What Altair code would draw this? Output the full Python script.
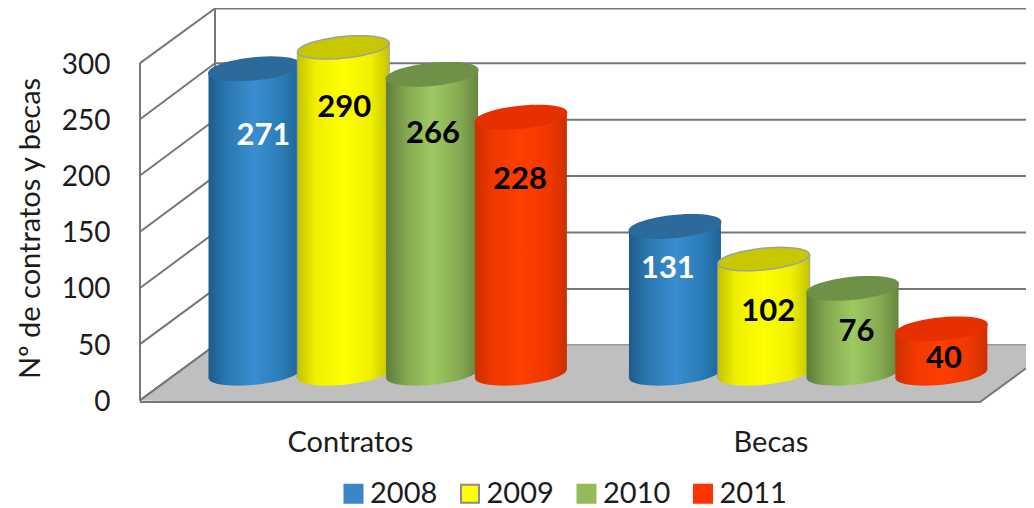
import math
import altair as alt
import pandas as pd

# ---- data ----
CATEGORIES = ["Contratos", "Becas"]
YEARS = ["2008", "2009", "2010", "2011"]
V_2008 = [271, 131]
V_2009 = [290, 102]
V_2010 = [266, 76]
V_2011 = [228, 40]
SERIES = [V_2008, V_2009, V_2010, V_2011]
Y_TICKS = [0, 50, 100, 150, 200, 250, 300]

# height (in axis units) at which each value label sits on its cylinder, and its sideways nudge
LABEL_LEVEL = [[211, 93], [236, 55], [213, 37], [172, 13]]
LABEL_SHIFT = [[0.10, -0.08], [0.01, 0.05], [0.01, 0.045], [-0.01, 0.03]]

# ---- styles ----
FONT = "Lato"
TXT = "#1c1c1c"
LEGEND_COL = ["#3a86c8", "#ffff00", "#93bb5a", "#ff3300"]
LEGEND_EDGE = ["#3a86c8", "#8c8c8c", "#93bb5a", "#ff3300"]
TOP_COL = ["#2c6a9c", "#c8c800", "#6f9147", "#e63000"]
TOP_EDGE = ["#2c6a9c", "#a0a0a0", "#6f9147", "#e63000"]
BODY_STOPS = [
    [("#1c5c8a", 0), ("#2a78b0", 0.2), ("#3a8dd0", 0.5), ("#2a7cb6", 0.8), ("#1f6494", 1)],
    [("#c4c400", 0), ("#f0f000", 0.2), ("#ffff00", 0.5), ("#f0f000", 0.8), ("#c4c400", 1)],
    [("#5d7d3a", 0), ("#84a850", 0.22), ("#9dca62", 0.5), ("#86aa52", 0.8), ("#66863e", 1)],
    [("#cc3000", 0), ("#f03800", 0.2), ("#ff3e00", 0.5), ("#f03800", 0.8), ("#cc3000", 1)],
]
WALL = "#777777"
FLOOR = "#bfbfbf"

# ---- projection of the fake 3-D space onto the shared x (slot) and y (value) scales ----
SLOT_PX = 88.8
GROUP_STEP = 4.735          # slots between the two groups
DEPTH_U = 75 / SLOT_PX      # sideways shift of the back wall, in slots
X_MIN = (140 - 254.5) / SLOT_PX
X_MAX = (1026 - 254.5) / SLOT_PX
Y_MIN, Y_MAX = -5, 349
BAR_DEPTH = 0.48
BAR_W = 92 / SLOT_PX
TILT = 4.0


def lift(v, d):
    return v * (1 + 0.0033 * d) + 49 * d


def dx(d):
    return X_MIN + DEPTH_U * d


wall_top = 348.6
rows = []
for i, t in enumerate(Y_TICKS):
    back = min(lift(t, 1), wall_top)
    rows += [
        {"u": dx(0), "y": t, "k": f"d{i}"},
        {"u": dx(1), "y": back, "k": f"d{i}"},
        {"u": dx(1), "y": back, "k": f"g{i}"},
        {"u": X_MAX, "y": back, "k": f"g{i}"},
    ]
rows += [{"u": dx(0), "y": 0, "k": "lv"}, {"u": dx(0), "y": 300, "k": "lv"}]
rows += [{"u": dx(1), "y": lift(0, 1), "k": "bv"}, {"u": dx(1), "y": wall_top, "k": "bv"}]
wall = pd.DataFrame(rows)

FRONT_END = (980 - 254.5) / SLOT_PX
RIGHT_D = (X_MAX - FRONT_END) / DEPTH_U
floor = pd.DataFrame([
    {"u": dx(0), "y": 0, "y2": 0},
    {"u": dx(1), "y": lift(0, 1), "y2": -1.5},
    {"u": FRONT_END, "y": lift(0, 1), "y2": -1.5},
    {"u": X_MAX, "y": lift(0, 1), "y2": lift(0, RIGHT_D) - 1.5},
])
edge = pd.DataFrame([
    {"u": dx(0), "y": -1.5},
    {"u": FRONT_END, "y": -1.5},
    {"u": X_MAX, "y": lift(0, RIGHT_D) - 1.5},
])


def ellipse_path(ry=0.235, deg=5.8, n=48):
    th = math.radians(deg)
    pts = []
    for i in range(n):
        t = 2 * math.pi * i / n
        x, y = math.cos(t), ry * math.sin(t)
        pts.append((x * math.cos(th) + y * math.sin(th), -x * math.sin(th) + y * math.cos(th)))
    return "M" + "L".join(f"{a:.4f},{b:.4f}" for a, b in pts) + "Z"


ELLIPSE = ellipse_path()
ELLIPSE_SIZE = 92 ** 2

CAT_U = [1.48 - BAR_DEPTH * DEPTH_U + c * GROUP_STEP for c in range(2)]
label_expr = f"datum.value < {(CAT_U[0] + CAT_U[1]) / 2} ? '{CATEGORIES[0]}' : '{CATEGORIES[1]}'"

x_scale = alt.Scale(domain=[X_MIN, X_MAX], nice=False, zero=False)
y_scale = alt.Scale(domain=[Y_MIN, Y_MAX], nice=False, zero=False)
x_axis = alt.Axis(
    values=CAT_U, labelExpr=label_expr, title=None, grid=False, domain=False, ticks=False,
    labelFont=FONT, labelFontSize=29, labelColor=TXT, labelPadding=22, labelOverlap=False,
    labelFlush=False, labelAlign="center")
y_axis = alt.Axis(
    values=Y_TICKS, title="Nº de contratos y becas", grid=False, domain=False, ticks=False,
    labelFont=FONT, labelFontSize=28, labelColor=TXT, labelPadding=30, labelOffset=2,
    titleFont=FONT, titleFontSize=29, titleFontWeight="normal", titleColor=TXT,
    titleX=-110, titleY=220, titleAnchor="middle", titleAlign="center", titleBaseline="middle")
X = alt.X("u:Q", scale=x_scale, axis=x_axis)
Y = alt.Y("y:Q", scale=y_scale, axis=y_axis)

wall_layer = alt.Chart(wall).mark_line(color=WALL, strokeWidth=2).encode(x=X, y=Y, detail="k:N")
floor_layer = alt.Chart(floor).mark_area(color=FLOOR, opacity=1).encode(x=X, y=Y, y2="y2:Q")
front_lines = alt.Chart(wall[wall.k.isin(["lv", "d0"])]).mark_line(color=WALL, strokeWidth=2).encode(x=X, y=Y, detail="k:N")
edge_layer = alt.Chart(edge).mark_line(color=WALL, strokeWidth=2).encode(x=X, y=Y)

layers = [wall_layer, floor_layer, front_lines, edge_layer]

for s, (year, vals) in enumerate(zip(YEARS, SERIES)):
    grad = alt.Gradient(
        gradient="linear", x1=0, x2=1, y1=0, y2=0,
        stops=[alt.GradientStop(color=c, offset=o) for c, o in BODY_STOPS[s]],
    )
    body, tops, labels = [], [], []
    for c, v in enumerate(vals):
        cu = s + c * GROUP_STEP
        top = lift(v, BAR_DEPTH)
        base = lift(0, BAR_DEPTH)
        body += [
            {"u": cu - BAR_W / 2, "y": top - TILT, "y2": base - TILT, "b": c},
            {"u": cu + BAR_W / 2, "y": top + TILT, "y2": base + TILT, "b": c},
        ]
        tops.append({"u": cu, "y": top, "base": base})
        labels.append({"u": cu + LABEL_SHIFT[s][c], "y": lift(LABEL_LEVEL[s][c], BAR_DEPTH), "t": str(v)})
    body_df, tops_df, labels_df = pd.DataFrame(body), pd.DataFrame(tops), pd.DataFrame(labels)
    for c in range(len(vals)):
        area_kw = {"stroke": TOP_EDGE[s], "strokeWidth": 1} if s == 1 else {}
        layers.append(
            alt.Chart(body_df[body_df.b == c]).mark_area(fill=grad, opacity=1, **area_kw).encode(x=X, y=Y, y2="y2:Q")
        )
    layers.append(
        alt.Chart(tops_df).mark_point(filled=True, fill=grad, opacity=1, shape=ELLIPSE, size=ELLIPSE_SIZE, strokeWidth=0)
        .encode(x=X, y=alt.Y("base:Q", scale=y_scale, axis=y_axis))
    )
    layers.append(
        alt.Chart(tops_df).mark_point(filled=True, fill=TOP_COL[s], stroke=TOP_EDGE[s], strokeWidth=1.5, opacity=1,
                                      shape=ELLIPSE, size=ELLIPSE_SIZE)
        .encode(x=X, y=Y)
    )
    layers.append(
        alt.Chart(labels_df).mark_text(font=FONT, fontSize=31, fontWeight="bold", baseline="middle", align="center",
                                       color="#ffffff" if s == 0 else "#000000")
        .encode(x=X, y=Y, text="t:N")
    )

legend_df = pd.DataFrame({"Año": YEARS, "u": [0.0] * 4, "y": [0.0] * 4})
legend_layer = alt.Chart(legend_df).mark_point(filled=True, size=0, opacity=1).encode(
    x=X, y=Y,
    fill=alt.Fill("Año:N", scale=alt.Scale(domain=YEARS, range=LEGEND_COL), title=None),
    stroke=alt.Stroke("Año:N", scale=alt.Scale(domain=YEARS, range=LEGEND_EDGE), title=None),
)
layers.append(legend_layer)

chart = alt.layer(*layers).properties(
    width=886, height=398,
    autosize=alt.AutoSizeParams(type="none"),
    padding={"left": 132, "top": 0, "right": 0, "bottom": 102},
    background="#ffffff",
).configure_view(stroke=None).configure_legend(
    orient="none", legendX=199, legendY=471, direction="horizontal", columns=4,
    symbolType="square", symbolSize=324, symbolStrokeWidth=2, symbolOpacity=1,
    labelFont=FONT, labelFontSize=29, labelColor=TXT, labelOffset=2, columnPadding=17.5,
    padding=0, labelLimit=120,
)

chart.save("out.html", embed_options={"renderer": "svg", "actions": False})
